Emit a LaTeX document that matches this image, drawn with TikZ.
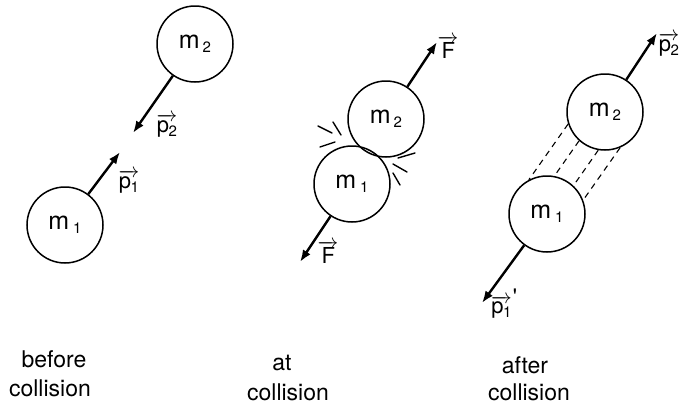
\documentclass[tikz,border=0pt]{standalone}
\usepackage{fontspec}
\setmainfont{TeX Gyre Heros}
\usetikzlibrary{arrows.meta}
\newcommand{\sub}[1]{\raisebox{-4pt}{\fontsize{15}{15}\selectfont #1}}
\newcommand{\vsym}[2]{$\overrightarrow{\mbox{#1\kern-0.5pt\sub{#2}}}$}
\tikzset{
  ball/.style={circle, draw, line width=1.5pt, minimum size=76pt, inner sep=0pt,
    font=\fontsize{25}{25}\selectfont},
  mom/.style={-{Latex[length=12pt,width=9pt]}, line width=2.4pt},
  vlab/.style={font=\fontsize{22}{22}\selectfont, inner sep=0pt},
  trail/.style={dash pattern=on 6pt off 5pt, line width=1.1pt},
  spark/.style={line width=1.4pt, line cap=round},
  caplab/.style={font=\fontsize{23}{23}\selectfont, anchor=base, inner sep=0pt},
}

\begin{document}
\begin{tikzpicture}[x=1pt,y=-1pt]
  \useasboundingbox (0,0) rectangle (683,405);
  \node[ball] (a1) at (65,225) {m\kern4pt\sub{1}};
  \node[ball] (a2) at (195,44) {m\kern3pt\sub{2}};
  \coordinate (a1tip) at (120,152);
  \coordinate (a2tip) at (133,133);
  \draw[mom] (a1) -- (a1tip);
  \draw[mom] (a2) -- (a2tip);
  \node[vlab] (a1lab) at (129,182) {\vsym{p}{1}};
  \node[vlab] (a2lab) at (167,126) {\vsym{p}{2}};

  \node[ball] (b1) at (352,184) {m\kern4pt\sub{1}};
  \node[ball] (b2) at (386,119) {m\kern3pt\sub{2}};
  \coordinate (b1tip) at (300,262);
  \coordinate (b2tip) at (437,42);
  \draw[mom] (b1) -- (b1tip);
  \draw[mom] (b2) -- (b2tip);
  \node[vlab] (b1lab) at (328,254) {\vsym{F}{}};
  \node[vlab] (b2lab) at (448,49) {\vsym{F}{}};
  \foreach \xa/\ya/\xb/\yb in {318/126/332/133, 333/122/341/135, 320/147/335/142,
      398/158/415/153, 393/164/407/172, 393/173/400/185}
    \draw[spark] (\xa,\ya) -- (\xb,\yb);

  \node[ball] (c1) at (547,214) {m\kern4pt\sub{1}};
  \node[ball] (c2) at (605,112) {m\kern3pt\sub{2}};
  \coordinate (c1tip) at (482,303);
  \coordinate (c2tip) at (657,33);
  \draw[mom] (c1) -- (c1tip);
  \draw[mom] (c2) -- (c2tip);
  \node[vlab] (c1lab) at (504,304) {\vsym{p}{1}\raisebox{9pt}{\kern1pt\textquotesingle}};
  \node[vlab] (c2lab) at (669,45) {\vsym{p}{2}};
  \foreach \u/\v in {198/118, 228/79, 260/47, 293/21}
    \draw[trail] (c2.\u) -- (c1.\v);

  \node[caplab] (cap1a) at (54,367) {before};
  \node[caplab] (cap1b) at (50,396) {collision};
  \node[caplab] (cap2a) at (282,370) {at};
  \node[caplab] (cap2b) at (288,400) {collision};
  \node[caplab] (cap3a) at (525,373) {after};
  \node[caplab] (cap3b) at (529,400) {collision};
\end{tikzpicture}
\end{document}
